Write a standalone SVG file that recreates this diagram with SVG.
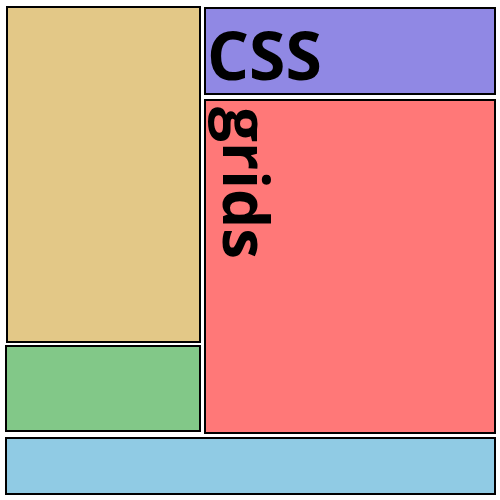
<svg xmlns="http://www.w3.org/2000/svg" width="500" height="500" viewBox="0 0 500 500">
<style>
.box{stroke:#000;stroke-width:2}
.lbl{font-family:"Open Sans","DejaVu Sans",sans-serif;font-weight:bold;font-size:62px;fill:#000}
</style>
<rect width="500" height="500" fill="#fff"/>
<g id="tan"><rect class="box" x="7" y="7" width="193" height="335" fill="#e3c887"/></g>
<g id="css"><rect class="box" x="205" y="8" width="290" height="86" fill="#9088e4"/><text class="lbl" x="207" y="80" style="font-size:66px">CSS</text></g>
<g id="grids"><rect class="box" x="205" y="100" width="290" height="333" fill="#ff7878"/><text class="lbl" transform="translate(223,107) rotate(90)">grids</text></g>
<g id="green"><rect class="box" x="6" y="346" width="194" height="85" fill="#82c888"/></g>
<g id="blue"><rect class="box" x="6" y="438" width="489" height="56" fill="#90cbe4"/></g>
<g id="connectors"/>
</svg>
